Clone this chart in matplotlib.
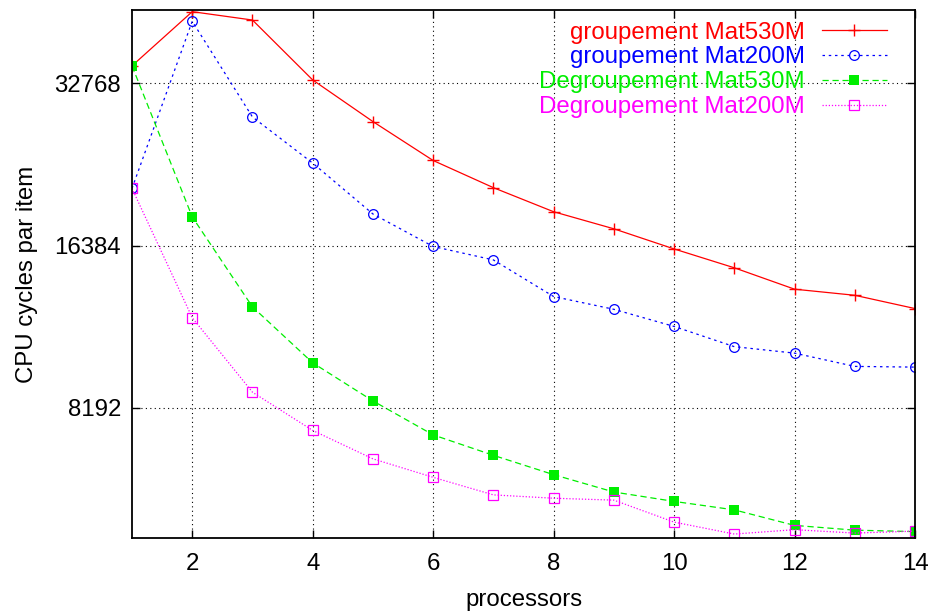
import matplotlib.pyplot as plt
from matplotlib.ticker import FixedLocator, NullLocator

processors = list(range(1, 15))

# CPU cycles per item
grp_530 = [35300, 44480, 42920, 33230, 27820, 23560, 20980, 18930, 17600, 16150, 14900, 13600, 13250, 12520]
grp_200 = [20910, 42690, 28370, 23300, 18750, 16320, 15410, 13180, 12480, 11600, 10640, 10350, 9780, 9750]
degrp_530 = [35300, 18520, 12610, 9930, 8440, 7300, 6690, 6160, 5720, 5495, 5300, 4960, 4860, 4830]
degrp_200 = [20910, 12040, 8760, 7440, 6590, 6090, 5650, 5570, 5525, 5030, 4780, 4870, 4800, 4840]

labels = ["groupement Mat530M", "groupement Mat200M",
          "Degroupement Mat530M", "Degroupement Mat200M"]
y_ticks = [8192, 16384, 32768]
x_ticks = [2, 4, 6, 8, 10, 12, 14]

plt.rcParams['font.family'] = ['Liberation Sans', 'DejaVu Sans']
fs = 17.3

fig = plt.figure(figsize=(9.3, 6.11), dpi=100)
ax = fig.add_axes([132/930, 1 - 538/611, (915-132)/930, (538-10)/611])

lw = 0.9
ax.plot(processors, grp_530, color='#ff0000', lw=lw, ls='-', marker='+',
        markersize=8, markeredgewidth=1.0, label=labels[0])
ax.plot(processors, grp_200, color='#0000ff', lw=lw, ls=(0, (2, 3)), marker='o',
        markersize=7, markerfacecolor='none', markeredgewidth=0.9, label=labels[1])
ax.plot(processors, degrp_530, color='#00ee00', lw=lw, ls=(0, (5, 3)), marker='s',
        markersize=6.5, markeredgewidth=0, label=labels[2])
ax.plot(processors, degrp_200, color='#ff00ff', lw=lw, ls=(0, (1, 1.5)), marker='s',
        markersize=7, markerfacecolor='none', markeredgewidth=0.9, label=labels[3])

ax.set_yscale('log', base=2)
ax.set_xlim(1, 14)
ax.set_ylim(4700, 44800)
ax.yaxis.set_major_locator(FixedLocator(y_ticks))
ax.yaxis.set_minor_locator(NullLocator())
ax.set_yticklabels([str(v) for v in y_ticks])
ax.set_xticks(x_ticks)

ax.tick_params(direction='in', length=6, width=1, top=True, right=True,
               labelsize=fs, pad=11)
ax.tick_params(axis='y', pad=8)
for s in ax.spines.values():
    s.set_linewidth(1.3)
ax.grid(True, color='black', ls=(0, (1, 3)), lw=0.8)

ax.set_xlabel('processors', fontsize=fs, labelpad=10)
ax.set_ylabel('CPU cycles par item', fontsize=fs, labelpad=12)

leg = ax.legend(loc='upper right', bbox_to_anchor=(0.964, 0.978), frameon=False,
                markerfirst=False, fontsize=fs, handlelength=2.7, handletextpad=0.7,
                labelspacing=0.12, borderaxespad=0, borderpad=0, labelcolor='linecolor')

fig.savefig('out.png', dpi=100)
